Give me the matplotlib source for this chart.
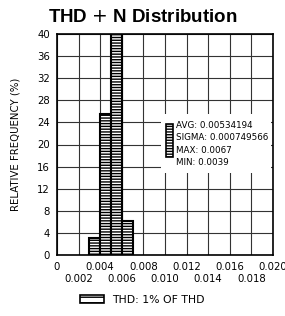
import matplotlib
matplotlib.use("Agg")
import matplotlib.pyplot as plt
from matplotlib.patches import Rectangle, Patch

bin_edges = [0.003, 0.004, 0.005, 0.006, 0.007]
rel_freq = [3.0, 25.5, 65.3, 6.2]
major_ticks = [0, 0.004, 0.008, 0.012, 0.016, 0.020]
major_labels = ["0", "0.004", "0.008", "0.012", "0.016", "0.020"]
minor_ticks = [0.002, 0.006, 0.010, 0.014, 0.018]
minor_labels = ["0.002", "0.006", "0.010", "0.014", "0.018"]
y_ticks = [0, 4, 8, 12, 16, 20, 24, 28, 32, 36, 40]
stats = ["AVG: 0.00534194", "SIGMA: 0.000749566", "MAX: 0.0067", "MIN: 0.0039"]

plt.rcParams['font.family'] = ['DejaVu Sans']
plt.rcParams['hatch.linewidth'] = 1.0

W, H = 285, 316
fig = plt.figure(figsize=(W/100, H/100), dpi=100)
L, R, T, B = 57, 273, 34, 255
ax = fig.add_axes([L/W, 1-B/H, (R-L)/W, (B-T)/H])

widths = [bin_edges[i+1]-bin_edges[i] for i in range(len(rel_freq))]
ax.bar(bin_edges[:-1], rel_freq, width=widths, align='edge', color='white',
       edgecolor='black', hatch='------', linewidth=1.5, zorder=3)

ax.set_xlim(0, 0.020)
ax.set_ylim(0, 40)
ax.set_xticks(major_ticks)
ax.set_xticklabels(major_labels, fontsize=7.3)
ax.set_xticks(minor_ticks, minor=True)
ax.set_xticklabels(minor_labels, minor=True, fontsize=7.3)
ax.set_yticks(y_ticks)
ax.set_yticklabels([str(v) for v in y_ticks], fontsize=7.3)
ax.tick_params(axis='both', which='both', length=0)
ax.tick_params(axis='x', which='major', pad=5)
ax.tick_params(axis='x', which='minor', pad=14)
ax.tick_params(axis='y', pad=5)
ax.grid(True, which='both', axis='x', color='#333333', linewidth=0.8, zorder=1)
ax.grid(True, which='major', axis='y', color='#333333', linewidth=0.8, zorder=1)
ax.set_axisbelow(True)
for s in ax.spines.values():
    s.set_linewidth(1.2)

ax.set_ylabel("RELATIVE FREQUENCY (%)", fontsize=7.3, labelpad=12)

# stats legend
ax.add_patch(Rectangle((0.48, 0.37), 0.51, 0.27, transform=ax.transAxes,
                       facecolor='white', edgecolor='none', zorder=4))
ax.add_patch(Rectangle((0.505, 0.445), 0.032, 0.15, transform=ax.transAxes,
                       facecolor='white', edgecolor='black', hatch='------',
                       linewidth=1.2, zorder=5))
ys = [0.585, 0.53, 0.475, 0.42]
for y, t in zip(ys, stats):
    ax.text(0.55, y, t, transform=ax.transAxes, fontsize=6.3, va='center',
            ha='left', zorder=6)

fig.text(0.5, 1-17/H, "THD $+$ N Distribution", ha='center', va='center',
         fontsize=13.5, fontweight='bold', family=['Liberation Sans', 'DejaVu Sans'])

h = Patch(facecolor='white', edgecolor='black', hatch='---', linewidth=1.2)
fig.legend([h], ["THD: 1% OF THD"], loc='center', bbox_to_anchor=(0.5, 1-300/H),
           frameon=False, fontsize=7.8, handlelength=2.2, handleheight=0.8)

fig.savefig("out.png", dpi=100)
